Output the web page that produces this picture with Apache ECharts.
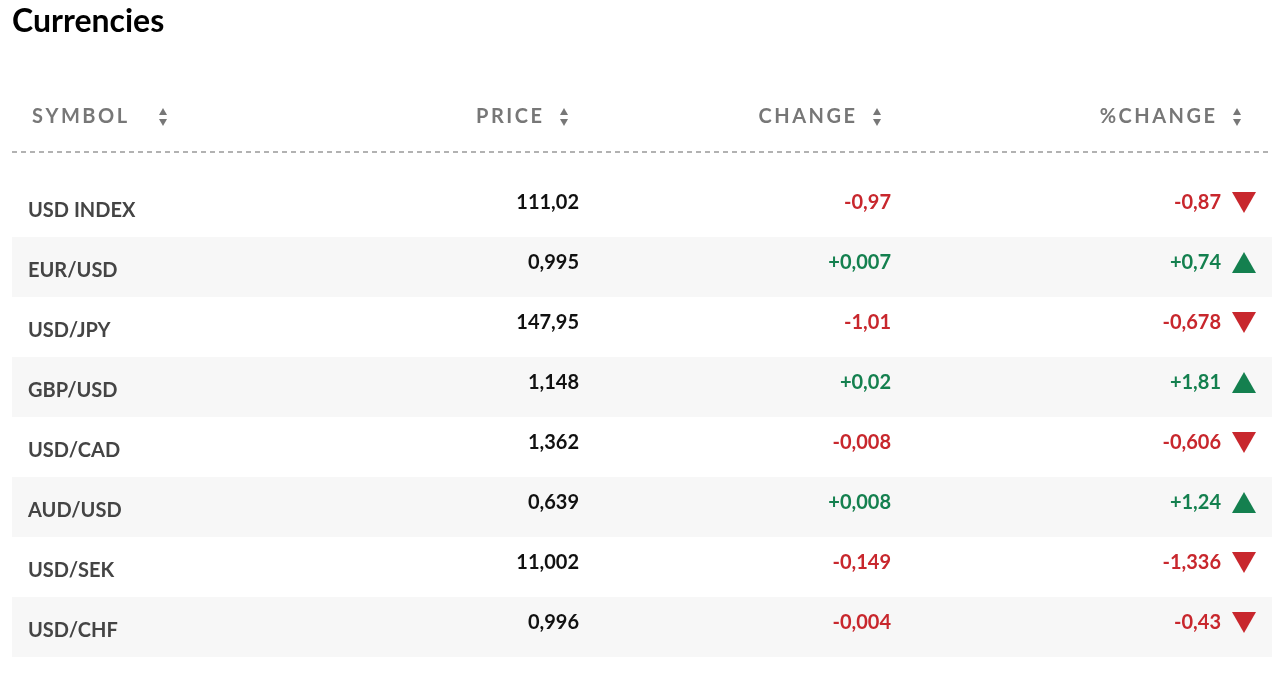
<!DOCTYPE html>
<html>
<head>
<meta charset="utf-8">
<script src="https://cdn.jsdelivr.net/npm/echarts@6/dist/echarts.min.js"></script>
<style>
  html, body { margin: 0; padding: 0; background: #fff; }
  #chart { width: 1274px; height: 676px; }
</style>
</head>
<body>
<div id="chart"></div>
<script>
// 数据
const symbols = ['USD INDEX', 'EUR/USD', 'USD/JPY', 'GBP/USD', 'USD/CAD', 'AUD/USD', 'USD/SEK', 'USD/CHF'];
const prices = ['111,02', '0,995', '147,95', '1,148', '1,362', '0,639', '11,002', '0,996'];
const changes = ['-0,97', '+0,007', '-1,01', '+0,02', '-0,008', '+0,008', '-0,149', '-0,004'];
const pctChanges = ['-0,87', '+0,74', '-0,678', '+1,81', '-0,606', '+1,24', '-1,336', '-0,43'];
const headers = ['SYMBOL', 'PRICE', 'CHANGE', '%CHANGE'];

const RED = '#c8272d';
const GREEN = '#14804f';
const FONT = 'Lato, "Open Sans", sans-serif';

// 表头字母间距
function spaced(s) {
    return s.split('').join('\u2009');
}

// 排序箭头
function sortArrows(x, y) {
    return [
        { type: 'polygon', shape: { points: [[x - 4, y - 2], [x + 4, y - 2], [x, y - 9]] }, style: { fill: '#777' } },
        { type: 'polygon', shape: { points: [[x - 4, y + 2], [x + 4, y + 2], [x, y + 9]] }, style: { fill: '#777' } }
    ];
}

const headerText = (text, x, align) => ({
    type: 'text', x: x, y: 117,
    style: { text: spaced(text), fill: '#777', font: 'bold 20px ' + FONT, align: align, verticalAlign: 'middle' }
});

const graphics = [
    { type: 'text', x: 12, y: 22, style: { text: 'Currencies', fill: '#000', font: 'bold 32px ' + FONT, verticalAlign: 'middle' } },
    headerText(headers[0], 32, 'left'),
    headerText(headers[1], 542, 'right'),
    headerText(headers[2], 855, 'right'),
    headerText(headers[3], 1215, 'right'),
    ...sortArrows(163, 117),
    ...sortArrows(564, 117),
    ...sortArrows(877, 117),
    ...sortArrows(1237, 117),
    { type: 'line', shape: { x1: 12, y1: 152, x2: 1272, y2: 152 }, style: { stroke: '#999', lineWidth: 1.5, lineDash: [5, 4] } }
];

function renderRow(params, api) {
    const idx = api.value(0);
    const center = api.coord([0, idx]);
    const h = api.size([0, 1])[1];
    const right = api.coord([1260, idx])[0];
    const y = center[1];
    const up = changes[idx].charAt(0) === '+';
    const color = up ? GREEN : RED;
    const ty = y - 4;
    const triX = api.coord([1232, idx])[0];
    const children = [
        { type: 'rect', shape: { x: center[0], y: y - h / 2, width: right - center[0], height: h },
          style: { fill: idx % 2 === 1 ? '#f7f7f7' : '#fff' } },
        { type: 'text', x: api.coord([16, idx])[0], y: y + 4,
          style: { text: symbols[idx], fill: '#444', font: 'bold 20px ' + FONT, verticalAlign: 'middle' } },
        { type: 'text', x: api.coord([567, idx])[0], y: ty,
          style: { text: prices[idx], fill: '#111', font: 'bold 20px ' + FONT, align: 'right', verticalAlign: 'middle' } },
        { type: 'text', x: api.coord([879, idx])[0], y: ty,
          style: { text: changes[idx], fill: color, font: 'bold 20px ' + FONT, align: 'right', verticalAlign: 'middle' } },
        { type: 'text', x: api.coord([1209, idx])[0], y: ty,
          style: { text: pctChanges[idx], fill: color, font: 'bold 20px ' + FONT, align: 'right', verticalAlign: 'middle' } },
        { type: 'polygon',
          shape: { points: up
              ? [[triX - 12, ty + 10], [triX + 12, ty + 10], [triX, ty - 11]]
              : [[triX - 12, ty - 11], [triX + 12, ty - 11], [triX, ty + 10]] },
          style: { fill: color } }
    ];
    return { type: 'group', children: children };
}

const chart = echarts.init(document.getElementById('chart'));
chart.setOption({
    animation: false,
    graphic: graphics,
    grid: { left: 12, right: 2, top: 177, bottom: 19 },
    xAxis: { type: 'value', min: 0, max: 1260, show: false },
    yAxis: { type: 'category', data: symbols, inverse: true, show: false },
    series: [{
        type: 'custom',
        renderItem: renderRow,
        data: symbols.map((s, i) => [i]),
        encode: { y: 0 }
    }]
});
</script>
</body>
</html>
